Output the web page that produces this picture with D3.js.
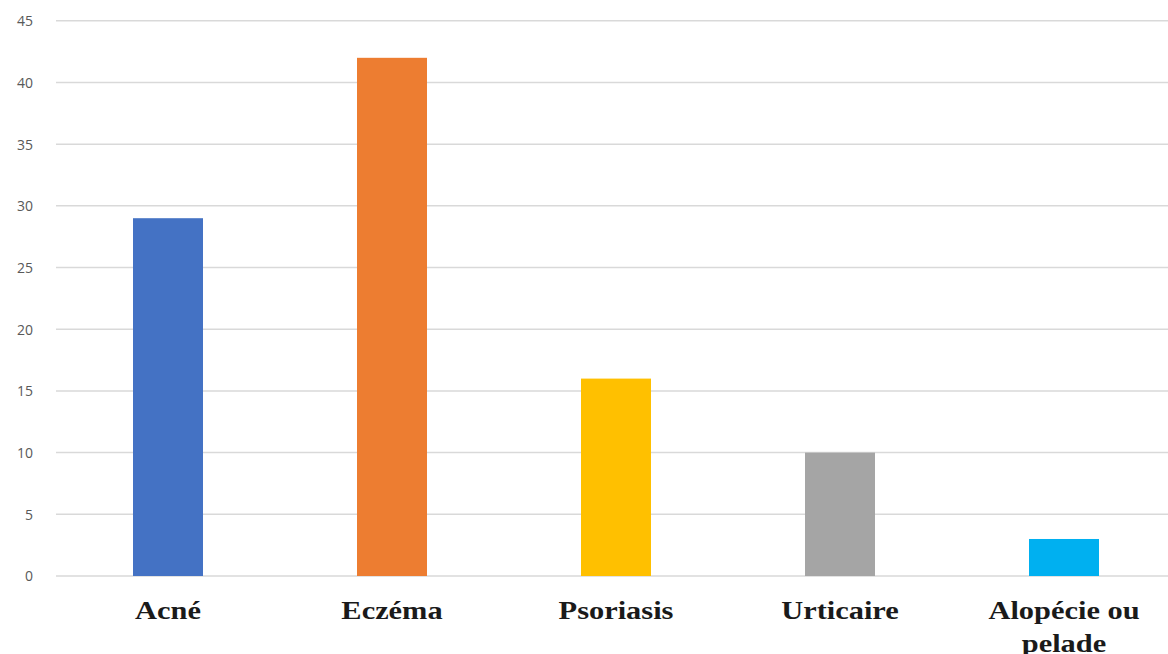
<!DOCTYPE html>
<html>
<head>
<meta charset="utf-8">
<script src="https://cdn.jsdelivr.net/npm/d3@7"></script>
<style>
  html, body { margin: 0; padding: 0; background: #ffffff; overflow: hidden; }
  svg { display: block; }
</style>
</head>
<body>
<svg id="chart" width="1168" height="654"></svg>
<script>
const categories = ["Acné", "Eczéma", "Psoriasis", "Urticaire", "Alopécie ou pelade"];
const labelLines = [["Acné"], ["Eczéma"], ["Psoriasis"], ["Urticaire"], ["Alopécie ou", "pelade"]];
const values = [29, 42, 16, 10, 3];
const colors = ["#4472C4", "#ED7D31", "#FFC000", "#A5A5A5", "#00B0F0"];
const yTicks = [0, 5, 10, 15, 20, 25, 30, 35, 40, 45];

const svg = d3.select("#chart");
const W = 1168, H = 654;

const x = d3.scaleBand()
  .domain(categories)
  .range([56, 1176])
  .paddingInner(0.6875)
  .paddingOuter(0.34375);

const y = d3.scaleLinear().domain([0, 45]).range([576, 20.8]);

// gridlines
svg.append("g")
  .selectAll("line")
  .data(yTicks)
  .join("line")
  .attr("x1", 56)
  .attr("x2", W)
  .attr("y1", d => y(d))
  .attr("y2", d => y(d))
  .attr("stroke", "#d9d9d9")
  .attr("stroke-width", 1.5);

// y axis labels
const yAxis = d3.axisLeft(y).tickValues(yTicks).tickSize(0).tickPadding(0);
const gy = svg.append("g").attr("transform", "translate(33,0)").call(yAxis);
gy.select(".domain").remove();
gy.selectAll("text")
  .attr("font-family", "'Open Sans', sans-serif")
  .attr("font-size", 14)
  .attr("fill", "#595959")
  .attr("dy", "0.35em");

// bars
svg.append("g")
  .selectAll("rect")
  .data(categories)
  .join("rect")
  .attr("x", d => x(d))
  .attr("width", x.bandwidth())
  .attr("y", (d, i) => y(values[i]))
  .attr("height", (d, i) => y(0) - y(values[i]))
  .attr("fill", (d, i) => colors[i]);

// category labels
const lbl = svg.append("g")
  .selectAll("g")
  .data(categories)
  .join("g")
  .attr("transform", d => `translate(${x(d) + x.bandwidth() / 2},619) scale(1.17,1)`);

lbl.append("text")
  .attr("text-anchor", "middle")
  .attr("font-family", "'Liberation Serif', 'Times New Roman', serif")
  .attr("font-weight", "bold")
  .attr("font-size", 26)
  .attr("fill", "#1a1a1a")
  .each(function (d, i) {
    const t = d3.select(this);
    labelLines[i].forEach((ln, j) => {
      t.append("tspan").attr("x", 0).attr("y", j * 33).text(ln);
    });
  });
</script>
</body>
</html>
